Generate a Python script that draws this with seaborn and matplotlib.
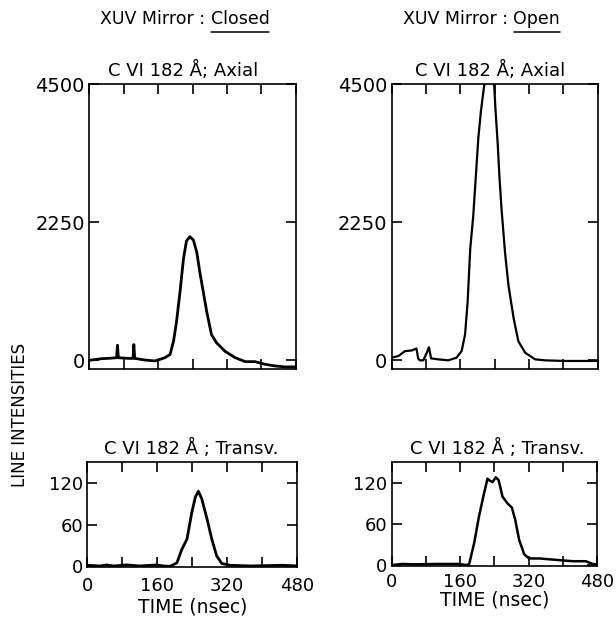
import matplotlib
matplotlib.use("Agg")
import numpy as np
import pandas as pd
import matplotlib.pyplot as plt
from matplotlib.lines import Line2D
import seaborn as sns

# Time axis (nsec) and line intensities
closed_axial_t = [0, 29, 50, 64, 66, 68, 91, 102, 104, 106, 130, 153, 176, 188, 196, 203, 211, 219,
                  226, 234, 242, 250, 257, 265, 273, 284, 296, 315, 339, 362, 385, 408, 431, 455, 480]
closed_axial_v = [0, 27, 35, 43, 246, 43, 32, 32, 257, 32, 5, -10, 43, 96, 311, 632, 1114, 1650,
                  1944, 2014, 1960, 1757, 1436, 1114, 793, 418, 284, 150, 43, -21, -21, -64, -91, -107, -107]

open_axial_t = [0, 16, 31, 47, 58, 62, 66, 74, 82, 87, 92, 109, 132, 151, 163, 171, 177, 183, 190,
                196, 202, 208, 215, 227, 239, 242, 247, 251, 256, 264, 272, 284, 295, 311, 334, 357, 404, 480]
open_axial_v = [43, 70, 150, 161, 193, 30, 0, 0, 123, 214, 32, 16, 0, 43, 150, 418, 953, 1811, 2346,
                2988, 3631, 4060, 4451, 4900, 4451, 4060, 3524, 2988, 2453, 1757, 1221, 686, 311, 123, 16, 0, -10, -10]

closed_transv_t = [0, 29, 44, 60, 90, 120, 159, 174, 189, 205, 216, 228, 239, 247, 254, 262, 274,
                   285, 296, 308, 327, 373, 411, 449, 480]
closed_transv_v = [1.5, 0.5, 2, 0.5, 2, 0.5, 2, 0.5, 0, 5, 24, 39, 77, 99, 108, 97, 68,
                   39, 15, 4, 1.5, 0.5, 1, 1.5, 0.5]

open_transv_t = [0, 25, 48, 111, 158, 173, 181, 193, 204, 216, 224, 230, 236, 243, 250, 259, 271,
                 281, 289, 298, 310, 321, 345, 384, 423, 454, 470, 480]
open_transv_v = [0.5, 2, 1.5, 2, 2, 0.5, 1.5, 33, 71, 105, 126, 123, 121, 128, 124, 100, 90,
                 84, 66, 37, 16, 10, 10, 8, 6, 6, 2, 1.5]

axial_yticks = [0, 2250, 4500]
transv_yticks = [0, 60, 120]
time_ticks = [0, 80, 160, 240, 320, 400, 480]
time_labels = ["0", "", "160", "", "320", "", "480"]

sns.set_style("ticks")
plt.rcParams["font.family"] = ["DejaVu Sans", "Noto Sans"]
plt.rcParams["text.color"] = "black"
plt.rcParams["axes.labelcolor"] = "black"
plt.rcParams["xtick.color"] = "black"
plt.rcParams["ytick.color"] = "black"

fig = plt.figure(figsize=(6.16, 6.18), dpi=100)
ax_ca = fig.add_axes([0.1445, 0.403, 0.336, 0.461])
ax_oa = fig.add_axes([0.6356, 0.403, 0.335, 0.461])
ax_ct = fig.add_axes([0.142, 0.0825, 0.340, 0.170])
ax_ot = fig.add_axes([0.636, 0.0841, 0.333, 0.168])


def style_axes(ax, yticks, ylim, lsize, bottom_labels, xpad=2):
    for sp in ax.spines.values():
        sp.set_visible(True)
        sp.set_linewidth(1.2)
        sp.set_color("black")
    ax.set_xlim(0, 480)
    ax.set_ylim(*ylim)
    ax.set_xticks(time_ticks)
    if bottom_labels:
        ax.set_xticklabels(time_labels)
    else:
        ax.set_xticklabels([])
    ax.set_yticks(yticks)
    ax.set_yticklabels([str(v) for v in yticks])
    ax.tick_params(direction="in", top=True, right=True, length=7, width=1.2,
                   labelsize=lsize, colors="black")
    ax.tick_params(axis="y", pad=3)
    ax.tick_params(axis="x", pad=xpad)
    ax.set_xlabel("")
    ax.set_ylabel("")


panels = [
    (ax_ca, closed_axial_t, closed_axial_v, 2.0),
    (ax_oa, open_axial_t, open_axial_v, 1.6),
    (ax_ct, closed_transv_t, closed_transv_v, 2.0),
    (ax_ot, open_transv_t, open_transv_v, 1.8),
]
for ax, t, v, lw in panels:
    df = pd.DataFrame({"time": t, "intensity": v})
    sns.lineplot(data=df, x="time", y="intensity", ax=ax, color="black", linewidth=lw)

style_axes(ax_ca, axial_yticks, (-140, 4500), 14, False)
style_axes(ax_oa, axial_yticks, (-140, 4500), 14, False)
style_axes(ax_ct, transv_yticks, (-1, 150), 13, True, xpad=7)
style_axes(ax_ot, transv_yticks, (-1, 150), 13, True, xpad=5)

ax_ct.set_xlabel("TIME (nsec)", fontsize=13.5, labelpad=2, color="black")
ax_ot.set_xlabel("TIME (nsec)", fontsize=13.5, labelpad=0, color="black")

# Panel headings
fig.text(0.297, 1 - 70 / 618, "C VI 182 Å; Axial", ha="center", va="center", fontsize=13)
fig.text(0.795, 1 - 70 / 618, "C VI 182 Å; Axial", ha="center", va="center", fontsize=13)
fig.text(0.31, 1 - 448 / 618, "C VI 182 Å ; Transv.", ha="center", va="center", fontsize=13)
fig.text(0.808, 1 - 448 / 618, "C VI 182 Å ; Transv.", ha="center", va="center", fontsize=13)

fig.text(0.032, 1 - 415 / 618, "LINE INTENSITIES", rotation=90, ha="center", va="center",
         fontsize=12)

# Mirror state headings with underlined state
heads = [("XUV Mirror : ", "Closed", 100 / 616), ("XUV Mirror : ", "Open", 403 / 616)]
fig.canvas.draw()
renderer = fig.canvas.get_renderer()
for prefix, state, x0 in heads:
    t1 = fig.text(x0, 1 - 19 / 618, prefix, ha="left", va="center", fontsize=12.5)
    bb = t1.get_window_extent(renderer)
    x1 = bb.x1 / fig.bbox.width
    t2 = fig.text(x1, 1 - 19 / 618, state, ha="left", va="center", fontsize=12.5)
    bb2 = t2.get_window_extent(renderer)
    yl = (bb2.y0 - 4) / fig.bbox.height
    fig.add_artist(Line2D([bb2.x0 / fig.bbox.width, bb2.x1 / fig.bbox.width], [yl, yl],
                          color="black", linewidth=1.1, transform=fig.transFigure))

fig.savefig("out.png", dpi=100)
